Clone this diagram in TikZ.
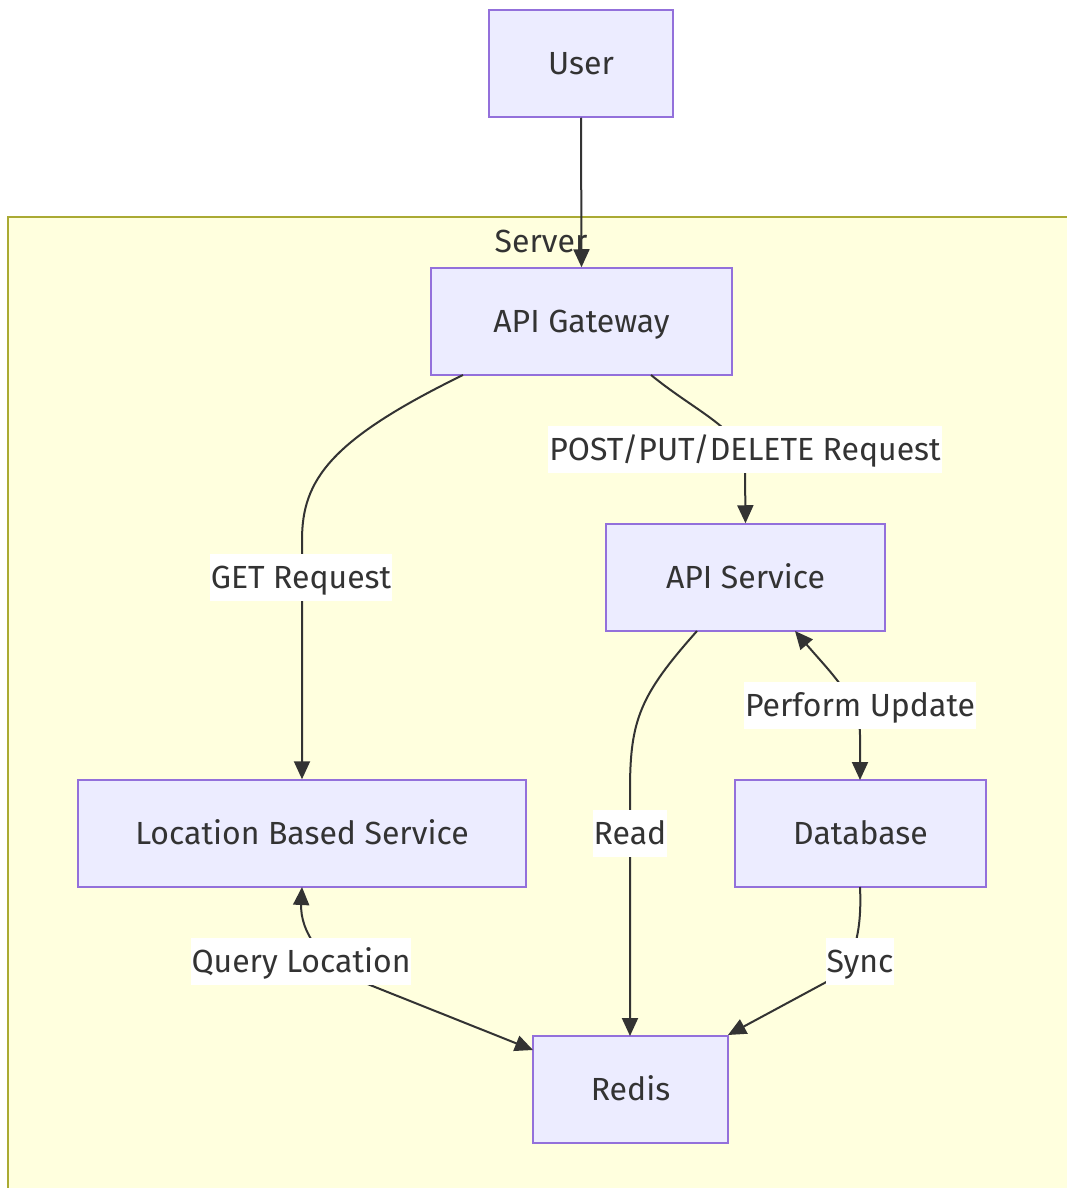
\documentclass[tikz,border=0pt]{standalone}
\usepackage{fontspec}
\setmainfont{Fira Sans}
\usetikzlibrary{arrows.meta}
\definecolor{nodefill}{HTML}{ECECFF}
\definecolor{nodestroke}{HTML}{9370DB}
\definecolor{clusterfill}{HTML}{FFFFDE}
\definecolor{clusterstroke}{HTML}{AAAA33}
\definecolor{ink}{HTML}{333333}
\begin{document}
\begin{tikzpicture}[x=1pt,y=-1pt,
  box/.style={draw=nodestroke,fill=nodefill,line width=1.5pt,text=ink,font=\fontsize{32}{34}\selectfont,inner sep=0pt,text height=22pt,text depth=0pt},
  lbl/.style={fill=white,text=ink,font=\fontsize{32}{34}\selectfont,inner xsep=1pt,inner ysep=0pt,minimum height=47pt,text height=22pt,text depth=0pt},
  edge/.style={draw=ink,line width=2pt,-{Triangle[length=18pt,width=16pt]}},
  biedge/.style={draw=ink,line width=2pt,{Triangle[length=18pt,width=16pt]}-{Triangle[length=18pt,width=16pt]}}]
\useasboundingbox (0,0) rectangle (1066,1188);
\fill[white] (0,0) rectangle (1066,1188);
% cluster
\draw[fill=clusterfill,draw=clusterstroke,line width=1.5pt] (8,217) rectangle (1080,1200);
\node[text=ink,font=\fontsize{32}{34}\selectfont,text height=22pt,text depth=0pt] (serverlbl) at (541,241) {Server};
% nodes
\node[box,minimum width=184pt,minimum height=107pt] (user) at (581,63.5) {User};
\node[box,minimum width=301pt,minimum height=107pt] (gw) at (581.5,321.5) {API Gateway};
\node[box,minimum width=279pt,minimum height=107pt] (apis) at (745.5,577.5) {API Service};
\node[box,minimum width=448pt,minimum height=107pt] (lbs) at (302,833.5) {Location Based Service};
\node[box,minimum width=251pt,minimum height=107pt] (db) at (860.5,833.5) {Database};
\node[box,minimum width=195pt,minimum height=107pt] (redis) at (630.5,1089.5) {Redis};
% coordinates
\coordinate (gwL) at (463,375);
\coordinate (gwR) at (651,375);
\coordinate (apisL) at (697,631);
\coordinate (apisR) at (795,631);
\coordinate (redisT) at (630,1036);
\coordinate (redisL) at (533,1050);
\coordinate (redisR) at (728,1035);
\coordinate (lbsB) at (302,887);
\coordinate (dbB) at (860,887);
\coordinate (dbT) at (860,780);
% edges
\draw[edge] (user.south) -- (gw.north);
\draw[edge] (gwL) .. controls (330,440) and (302,480) .. (302,540) -- (lbs.north);
\draw[edge] (gwR) .. controls (700,415) and (745,430) .. (745,470) -- (apis.north);
\draw[edge] (apisL) .. controls (640,695) and (630,720) .. (630,790) -- (redisT);
\draw[biedge] (apisR) .. controls (830,672) and (860,700) .. (860,735) -- (dbT);
\draw[biedge] (lbsB) .. controls (300,930) and (320,965) .. (370,985) -- (redisL);
\draw[edge] (dbB) .. controls (862,930) and (855,965) .. (830,980) -- (redisR);
% labels
\node[lbl] (l1) at (301,577) {GET Request};
\node[lbl] (l2) at (745,449) {POST/PUT/DELETE Request};
\node[lbl] (l3) at (630,833) {Read};
\node[lbl] (l4) at (860,705) {Perform Update};
\node[lbl] (l5) at (301,961) {Query Location};
\node[lbl] (l6) at (860,961) {Sync};
\end{tikzpicture}
\end{document}
